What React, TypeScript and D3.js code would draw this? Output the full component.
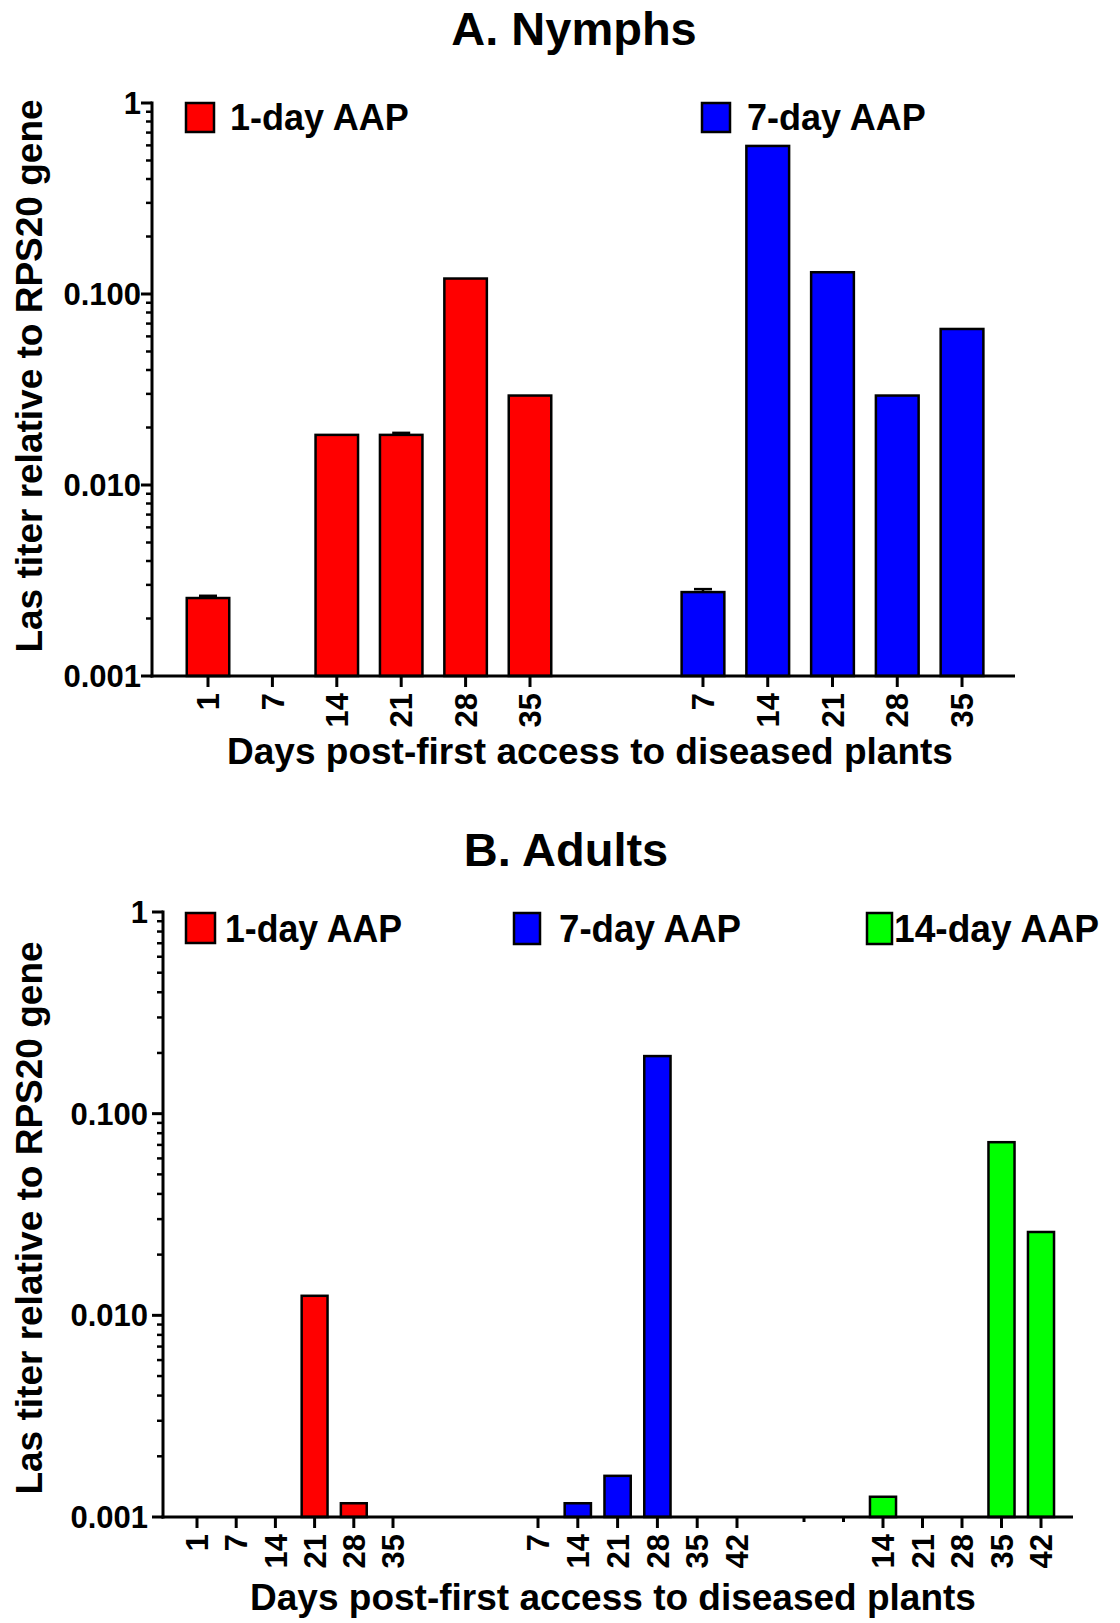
import React from "react";
import * as d3 from "d3";

// ---------- DATA ----------
const yTickValues = [0.001, 0.01, 0.1, 1];
const yTickLabels = ["0.001", "0.010", "0.100", "1"];

// A. Nymphs
const nymphRedDays = ["1", "7", "14", "21", "28", "35"];
const nymphRedValues: (number | null)[] = [0.00256, null, 0.0183, 0.0183, 0.1205, 0.0294];
const nymphRedErrors = [0.00007, 0, 0, 0.00045, 0, 0];
const nymphBlueDays = ["7", "14", "21", "28", "35"];
const nymphBlueValues: (number | null)[] = [0.00275, 0.596, 0.13, 0.0294, 0.0656];
const nymphBlueErrors = [0.0001, 0, 0, 0, 0];

// B. Adults
const adultRedDays = ["1", "7", "14", "21", "28", "35"];
const adultRedValues: (number | null)[] = [null, null, null, 0.0125, 0.00117, null];
const adultBlueDays = ["7", "14", "21", "28", "35", "42"];
const adultBlueValues: (number | null)[] = [null, 0.00117, 0.0016, 0.193, null, null];
const adultGreenDays = ["", "", "14", "21", "28", "35", "42"];
const adultGreenValues: (number | null)[] = [null, null, 0.00126, null, null, 0.0722, 0.0259];

const seriesNames = ["1-day AAP", "7-day AAP", "14-day AAP"];
const seriesColors = ["#ff0000", "#0000ff", "#00ff00"];

const FONT = "'Liberation Sans', Arial, Helvetica, sans-serif";

type Group = {
  days: string[];
  values: (number | null)[];
  errors?: number[];
  color: string;
  range: [number, number];
};

type LegendItem = {
  name: string;
  color: string;
  box: [number, number, number, number];
  textX: number;
  textY: number;
  size: number;
  len?: number;
};

function Panel(props: {
  title: string;
  titleX: number;
  titleY: number;
  yRange: [number, number];
  axisX: number;
  axisEnd: number;
  groups: Group[];
  legend: LegendItem[];
  yTitleX: number;
  yTitleY: number;
  xTitleX: number;
  xTitleY: number;
  labelGap: number;
  tickLabelSize: number;
  xLabelSize: number;
}) {
  const p = props;
  const y = d3.scaleLog().domain([0.001, 1]).range(p.yRange);
  const base = p.yRange[0];
  const minor = y.ticks().filter((t) => !yTickValues.some((v) => Math.abs(v - t) < t * 1e-6));

  return (
    <g>
      <text x={p.titleX} y={p.titleY} textAnchor="middle" fontFamily={FONT} fontWeight="bold" fontSize={47}>
        {p.title}
      </text>
      {/* y axis */}
      <line x1={p.axisX} x2={p.axisX} y1={p.yRange[1] - 1.5} y2={base + 1.5} stroke="#000" strokeWidth={3} />
      {minor.map((t, i) => (
        <line key={"m" + i} x1={p.axisX - 6} x2={p.axisX} y1={y(t)} y2={y(t)} stroke="#000" strokeWidth={2.5} />
      ))}
      {yTickValues.map((t, i) => (
        <g key={"M" + i}>
          <line x1={p.axisX - 11} x2={p.axisX} y1={y(t)} y2={y(t)} stroke="#000" strokeWidth={3} />
          <text
            x={p.axisX - p.labelGap}
            y={y(t)}
            dy="0.36em"
            textAnchor="end"
            fontFamily={FONT}
            fontWeight="bold"
            fontSize={p.tickLabelSize}
          >
            {yTickLabels[i]}
          </text>
        </g>
      ))}
      {/* bars */}
      {p.groups.map((g, gi) => {
        const x = d3
          .scaleBand<number>()
          .domain(d3.range(g.days.length))
          .range(g.range)
          .paddingInner(0.34)
          .paddingOuter(0.17);
        const bw = x.bandwidth();
        return (
          <g key={"g" + gi}>
            {g.values.map((v, i) => {
              if (v == null) return null;
              const top = y(v);
              const err = g.errors ? g.errors[i] : 0;
              const cx = (x(i) as number) + bw / 2;
              return (
                <g key={"b" + i}>
                  {err > 0 && (
                    <g stroke="#000" strokeWidth={2.5}>
                      <line x1={cx} x2={cx} y1={top} y2={y(v + err)} />
                      <line x1={cx - 9} x2={cx + 9} y1={y(v + err)} y2={y(v + err)} />
                    </g>
                  )}
                  <rect
                    x={x(i)}
                    y={top}
                    width={bw}
                    height={base - top}
                    fill={g.color}
                    stroke="#000"
                    strokeWidth={2.5}
                  />
                </g>
              );
            })}
            {g.days.map((d, i) => {
              const cx = (x(i) as number) + bw / 2;
              return (
                <g key={"t" + i}>
                  <line
                    x1={cx}
                    x2={cx}
                    y1={base}
                    y2={base + (d === "" ? 5 : 11)}
                    stroke="#000"
                    strokeWidth={3}
                  />
                  {d !== "" && (
                    <text
                      transform={`translate(${cx},${base + 17}) rotate(-90)`}
                      dy="0.36em"
                      textAnchor="end"
                      fontFamily={FONT}
                      fontWeight="bold"
                      fontSize={p.xLabelSize}
                    >
                      {d}
                    </text>
                  )}
                </g>
              );
            })}
          </g>
        );
      })}
      {/* x axis */}
      <line x1={p.axisX - 1.5} x2={p.axisEnd} y1={base} y2={base} stroke="#000" strokeWidth={3} />
      {/* legend */}
      {p.legend.map((l, i) => (
        <g key={"l" + i}>
          <rect x={l.box[0]} y={l.box[1]} width={l.box[2]} height={l.box[3]} fill={l.color} stroke="#000" strokeWidth={2.5} />
          <text
            x={l.textX}
            y={l.textY}
            fontFamily={FONT}
            fontWeight="bold"
            fontSize={l.size}
            textLength={l.len}
            lengthAdjust={l.len ? "spacingAndGlyphs" : undefined}
          >
            {l.name}
          </text>
        </g>
      ))}
      {/* axis titles */}
      <text
        transform={`translate(${p.yTitleX},${p.yTitleY}) rotate(-90)`}
        textAnchor="middle"
        fontFamily={FONT}
        fontWeight="bold"
        fontSize={37}
      >
        Las titer relative to RPS20 gene
      </text>
      <text x={p.xTitleX} y={p.xTitleY} textAnchor="middle" fontFamily={FONT} fontWeight="bold" fontSize={37}>
        Days post-first access to diseased plants
      </text>
    </g>
  );
}

export default function App() {
  const groupsA: Group[] = [
    { days: nymphRedDays, values: nymphRedValues, errors: nymphRedErrors, color: seriesColors[0], range: [175.8, 562.2] },
    { days: nymphBlueDays, values: nymphBlueValues, errors: nymphBlueErrors, color: seriesColors[1], range: [670.6, 994.4] },
  ];
  const groupsB: Group[] = [
    { days: adultRedDays, values: adultRedValues, color: seriesColors[0], range: [177.4, 412.6] },
    { days: adultBlueDays, values: adultBlueValues, color: seriesColors[1], range: [518.1, 756.9] },
    { days: adultGreenDays, values: adultGreenValues, color: seriesColors[2], range: [784.25, 1060.75] },
  ];
  const legendA: LegendItem[] = [
    { name: seriesNames[0], color: seriesColors[0], box: [186, 103, 28, 29], textX: 230, textY: 130, size: 36 },
    { name: seriesNames[1], color: seriesColors[1], box: [702, 103, 28, 29], textX: 747, textY: 130, size: 36 },
  ];
  const legendB: LegendItem[] = [
    { name: seriesNames[0], color: seriesColors[0], box: [186, 913, 29, 30], textX: 225, textY: 942, size: 39, len: 177 },
    { name: seriesNames[1], color: seriesColors[1], box: [514, 913, 26, 31], textX: 559, textY: 942, size: 39, len: 182 },
    { name: seriesNames[2], color: seriesColors[2], box: [867, 913, 25, 31], textX: 894, textY: 942, size: 39, len: 205 },
  ];
  return (
    <svg
      width={1120}
      height={1623}
      style={{ position: "absolute", left: 0, top: 0, display: "block", background: "#fff" }}
    >
      <rect x={0} y={0} width={1120} height={1623} fill="#fff" />
      <Panel
        title="A. Nymphs"
        titleX={574}
        titleY={45}
        yRange={[676, 103]}
        axisX={152}
        axisEnd={1015}
        groups={groupsA}
        legend={legendA}
        yTitleX={42}
        yTitleY={376}
        xTitleX={590}
        xTitleY={764}
        labelGap={11}
        tickLabelSize={31}
        xLabelSize={31}
      />
      <Panel
        title="B. Adults"
        titleX={566}
        titleY={866}
        yRange={[1517, 912]}
        axisX={163}
        axisEnd={1073}
        groups={groupsB}
        legend={legendB}
        yTitleX={42}
        yTitleY={1218}
        xTitleX={613}
        xTitleY={1610}
        labelGap={15}
        tickLabelSize={31}
        xLabelSize={31}
      />
    </svg>
  );
}
